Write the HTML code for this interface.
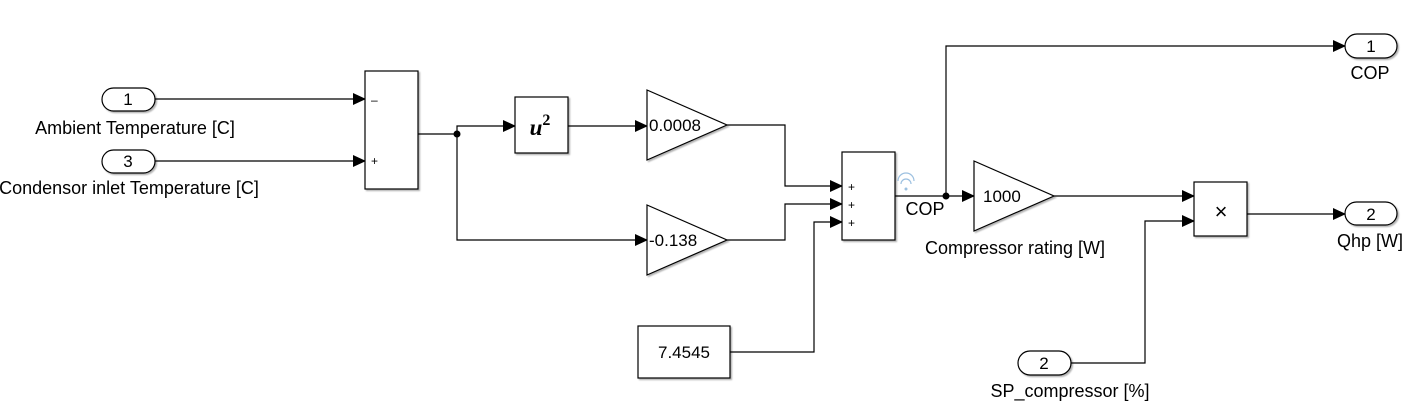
<!DOCTYPE html>
<html><head><meta charset="utf-8"><style>
html,body{margin:0;padding:0;background:#fff;}
svg{display:block;font-family:"Liberation Sans",sans-serif;}
</style></head><body>
<svg width="1409" height="411" viewBox="0 0 1409 411" xmlns="http://www.w3.org/2000/svg">
<defs>
<marker id="a" markerWidth="13" markerHeight="12" refX="12" refY="6" orient="auto" markerUnits="userSpaceOnUse">
<path d="M0,0 L13,6 L0,12 Z" fill="#000"/></marker>
<filter id="s" x="-10%" y="-10%" width="130%" height="130%"><feDropShadow dx="1.5" dy="1.5" stdDeviation="0.8" flood-color="#000" flood-opacity="0.3"/></filter>
</defs>
<g fill="none" stroke="#000" stroke-width="1.2">
<path d="M155,99 H365" marker-end="url(#a)"/>
<path d="M155,161 H365" marker-end="url(#a)"/>
<path d="M418,134 H457 V126 H515" marker-end="url(#a)"/>
<path d="M457,134 V240 H647" marker-end="url(#a)"/>
<path d="M568,126 H647" marker-end="url(#a)"/>
<path d="M727,125 H785 V186 H842" marker-end="url(#a)"/>
<path d="M727,240 H785 V204 H842" marker-end="url(#a)"/>
<path d="M730,352 H814 V222 H842" marker-end="url(#a)"/>
<path d="M895,196 H974" marker-end="url(#a)"/>
<path d="M946,196 V46 H1345" marker-end="url(#a)"/>
<path d="M1054,196 H1194" marker-end="url(#a)"/>
<path d="M1071,363 H1145 V221 H1194" marker-end="url(#a)"/>
<path d="M1247,214 H1345" marker-end="url(#a)"/>
</g>
<circle cx="457" cy="134" r="3.5" fill="#000"/>
<circle cx="946" cy="196" r="3.5" fill="#000"/>
<g fill="#fff" stroke="#000" stroke-width="1.2" filter="url(#s)">
<rect x="102" y="88" width="53" height="23" rx="11.5"/>
<rect x="102" y="150" width="53" height="23" rx="11.5"/>
<rect x="365" y="71" width="53" height="118"/>
<rect x="515" y="97" width="53" height="56"/>
<path d="M647,90 L727,125 L647,160 Z"/>
<path d="M647,205 L727,240 L647,275 Z"/>
<rect x="842" y="152" width="53" height="88"/>
<rect x="638" y="326" width="92" height="52"/>
<path d="M974,161 L1054,196 L974,231 Z"/>
<rect x="1194" y="182" width="53" height="54"/>
<rect x="1345" y="34" width="52" height="24" rx="12"/>
<rect x="1345" y="202" width="52" height="23" rx="11.5"/>
<rect x="1018" y="351" width="53" height="24" rx="12"/>
</g>
<g font-size="17" fill="#000" text-anchor="middle">
<text x="128" y="105">1</text>
<text x="128" y="167">3</text>
<text x="684" y="358">7.4545</text>
<text x="1371" y="52">1</text>
<text x="1371" y="220">2</text>
<text x="1044" y="369">2</text>
</g>
<g font-size="18" fill="#000" text-anchor="middle">
<text x="135" y="134">Ambient Temperature [C]</text>
<text x="129" y="194">Condensor inlet Temperature [C]</text>
<text x="1370" y="79">COP</text>
<text x="1370" y="247">Qhp [W]</text>
<text x="1070" y="397">SP_compressor [%]</text>
<text x="1015" y="254">Compressor rating [W]</text>
<text x="925" y="215">COP</text>
</g>
<g font-size="17" fill="#000">
<text x="649" y="131">0.0008</text>
<text x="649" y="246">-0.138</text>
<text x="983" y="202">1000</text>
</g>
<text x="540" y="135" font-family="Liberation Serif,serif" font-size="23" font-style="italic" font-weight="bold" text-anchor="middle">u<tspan font-size="16" dy="-10" font-style="normal">2</tspan></text>
<g font-size="12" fill="#000">
<text x="371" y="104">–</text>
<text x="371" y="165">+</text>
<text x="848" y="191">+</text>
<text x="848" y="209">+</text>
<text x="848" y="227">+</text>
</g>
<text x="1221" y="219" font-size="22" text-anchor="middle" fill="#000">×</text>
<g fill="none" stroke="#9cc0e0" stroke-width="1.2">
<path d="M901,184 a5,5 0 0 1 10,0"/>
<path d="M898,181 a8,8 0 0 1 16,0"/>
</g>
<circle cx="906" cy="189" r="1.5" fill="#9cc0e0"/>
</svg>
</body></html>
